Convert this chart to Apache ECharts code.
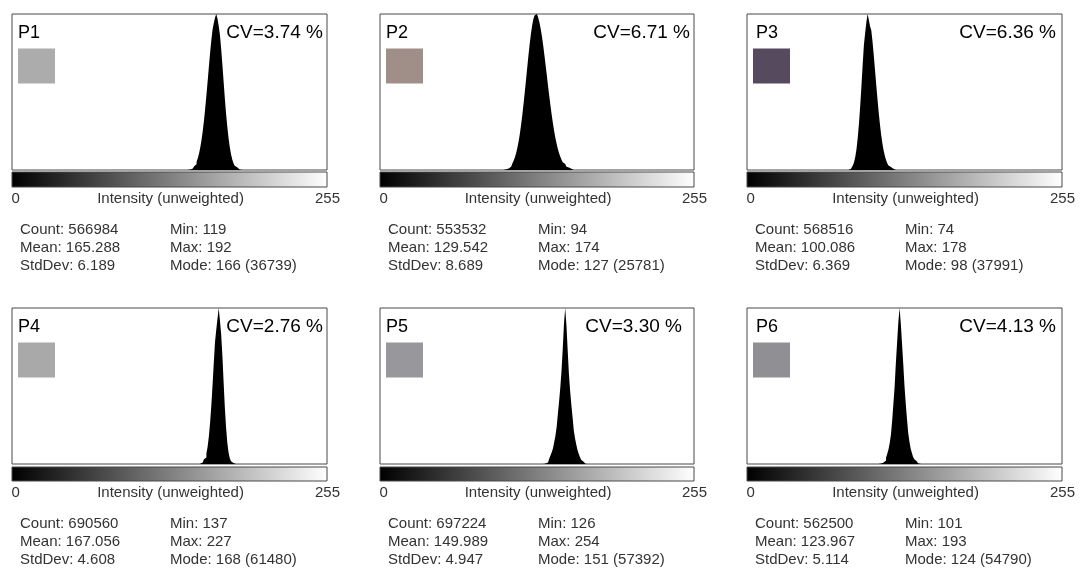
<!DOCTYPE html>
<html>
<head>
<meta charset="utf-8">
<script src="https://cdn.jsdelivr.net/npm/echarts@6/dist/echarts.min.js"></script>
<style>
html,body{margin:0;padding:0;background:#fff;}
#chart{width:1087px;height:574px;}
</style>
</head>
<body>
<div id="chart"></div>
<script>
// ---------------- DATA ----------------
const panelNames = ['P1', 'P2', 'P3', 'P4', 'P5', 'P6'];
const cvValues = ['3.74', '6.71', '6.36', '2.76', '3.30', '4.13'];
const axisEndLabels = ['0', '255'];
const axisTitle = 'Intensity (unweighted)';
const binCount = 256;

const counts = [566984, 553532, 568516, 690560, 697224, 562500];
const means = ['165.288', '129.542', '100.086', '167.056', '149.989', '123.967'];
const stdDevs = ['6.189', '8.689', '6.369', '4.608', '4.947', '5.114'];
const mins = [119, 94, 74, 137, 126, 101];
const maxs = [192, 174, 178, 227, 254, 193];
const modes = [166, 127, 98, 168, 151, 124];
const modeCounts = [36739, 25781, 37991, 61480, 57392, 54790];

// first bin of each visible histogram run, and the bin counts
const histStart = [143, 102, 83, 153, 134, 107];
const hist1 = [85,145,235,370,590,890,1330,1950,2770,3870,5270,7020,9150,11600,14500,17600,20900,24300,27600,30600,33100,34600,35900,36739,35600,33900,31800,28500,24700,20700,16800,13200,10100,7470,5330,3700,2490,1610,1020,620,370,210,115];
const hist2 = [115,175,263,395,570,810,1130,1560,2110,2810,3660,4720,5960,7420,9050,10850,12790,14800,16860,18870,20750,22450,23850,24900,25550,25781,25620,25160,24390,23350,22090,20650,19050,17370,15640,13900,12210,10600,9080,7680,6420,5300,4330,3490,2780,2190,1690,1300,980,735,545,396,286,204,144];
const hist3 = [148,300,585,1080,1910,3230,5140,7830,11320,15610,20480,25610,30430,33300,36000,37991,36600,35000,34040,31270,28000,24470,20890,17400,14130,11210,8660,6530,4820,3470,2440,1670,1120,730,465,290,175,100];
const hist4 = [300,600,1100,1900,2600,4120,6890,10900,16350,23200,31200,39900,48200,52900,57200,61480,56560,51000,42600,32000,22100,14140,8300,4490,2260,1040,443,172];
const hist5 = [115,230,570,1150,2010,3160,4300,5740,8030,10330,13490,18370,22960,28120,34440,42470,51650,57392,51080,41900,33290,26970,21810,17220,12340,9470,7170,5170,3730,2580,1550,860,345,115];
const hist6 = [480,150,90,220,550,1210,2190,3560,5210,7400,10410,15340,21370,27400,35610,42740,49860,54790,49310,42190,35070,27400,21370,15890,10960,7940,5480,3840,2470,1640,990,550,270,110];
const histograms = [hist1, hist2, hist3, hist4, hist5, hist6];

// ---------------- STYLE / LAYOUT ----------------
const swatchColors = ['#acacac', '#a08f89', '#554a5e', '#a9a9a9', '#98989c', '#909094'];
const colLeft = [12, 380, 747];
const colWidth = [315, 314, 315];
const rowTop = [14, 308];
const boxH = 156;
const gradTopOff = [158, 159];
const gradH = [15, 14];
const pLabelOff = [6, 6, 9, 6, 6, 9];
const cvRightOff = [4, 4, 6, 4, 12, 6];
const FONT = "'Liberation Sans', Arial, sans-serif";
const SMALL = 15;

const binLabels = Array.from({length: binCount}, (_, i) => String(i));

function fullSeries(k) {
  const arr = new Array(binCount).fill(0);
  histograms[k].forEach((v, j) => { arr[histStart[k] + j] = v; });
  return arr;
}

const grids = [], xAxes = [], yAxes = [], series = [], graphics = [];

function txt(x, y, text, size, color, align) {
  return {
    type: 'text', x: x, y: y, z: 100,
    style: {
      text: text, fill: color, font: size + 'px ' + FONT,
      textAlign: align, textVerticalAlign: 'middle', align: align, verticalAlign: 'middle'
    }
  };
}

for (let k = 0; k < 6; k++) {
  const c = k % 3, r = Math.floor(k / 3);
  const left = colLeft[c], w = colWidth[c], top = rowTop[r];
  grids.push({
    left: left, top: top, width: w, height: boxH,
    show: true, borderColor: '#484848', borderWidth: 1, backgroundColor: '#fff'
  });
  xAxes.push({
    type: 'category', gridIndex: k, data: binLabels, boundaryGap: true,
    axisLine: {show: false}, axisTick: {show: false}, axisLabel: {show: false}, splitLine: {show: false}
  });
  yAxes.push({
    type: 'value', gridIndex: k, min: 0, max: 'dataMax', show: false, splitLine: {show: false}
  });
  series.push({
    type: 'line', xAxisIndex: k, yAxisIndex: k, data: fullSeries(k),
    step: 'middle', symbol: 'none', silent: true,
    lineStyle: {opacity: 0, width: 0},
    areaStyle: {color: '#000', opacity: 1}
  });

  // gradient bar
  const gy = top + gradTopOff[r];
  graphics.push({
    type: 'rect', z: 50,
    shape: {x: left, y: gy, width: w, height: gradH[r]},
    style: {
      fill: new echarts.graphic.LinearGradient(0, 0, 1, 0, [
        {offset: 0, color: '#000'}, {offset: 1, color: '#fff'}
      ]),
      stroke: '#484848', lineWidth: 1
    }
  });
  // axis labels
  const ly = top + 184.5;
  graphics.push(txt(left - 0.5, ly, axisEndLabels[0], SMALL, '#333', 'left'));
  graphics.push(txt(left + w / 2 + 1, ly, axisTitle, SMALL, '#333', 'center'));
  graphics.push(txt(left + w + 13, ly, axisEndLabels[1], SMALL, '#333', 'right'));

  // panel label, CV, swatch
  graphics.push(txt(left + pLabelOff[k], top + 19, panelNames[k], 18, '#000', 'left'));
  graphics.push(txt(left + w - cvRightOff[k], top + 19, 'CV=' + cvValues[k] + ' %', 19, '#000', 'right'));
  graphics.push({
    type: 'rect', z: 60,
    shape: {x: left + 6, y: top + 34.5, width: 37, height: 35},
    style: {fill: swatchColors[k]}
  });

  // stats
  const sy = top + 215.5;
  const col1 = left + 8, col2 = left + 158;
  graphics.push(txt(col1, sy, 'Count: ' + counts[k], SMALL, '#333', 'left'));
  graphics.push(txt(col1, sy + 18, 'Mean: ' + means[k], SMALL, '#333', 'left'));
  graphics.push(txt(col1, sy + 36, 'StdDev: ' + stdDevs[k], SMALL, '#333', 'left'));
  graphics.push(txt(col2, sy, 'Min: ' + mins[k], SMALL, '#333', 'left'));
  graphics.push(txt(col2, sy + 18, 'Max: ' + maxs[k], SMALL, '#333', 'left'));
  graphics.push(txt(col2, sy + 36, 'Mode: ' + modes[k] + ' (' + modeCounts[k] + ')', SMALL, '#333', 'left'));
}

const chart = echarts.init(document.getElementById('chart'), null, {renderer: 'canvas'});
chart.setOption({
  animation: false,
  backgroundColor: '#fff',
  grid: grids,
  xAxis: xAxes,
  yAxis: yAxes,
  series: series,
  graphic: {elements: graphics}
});
</script>
</body>
</html>
